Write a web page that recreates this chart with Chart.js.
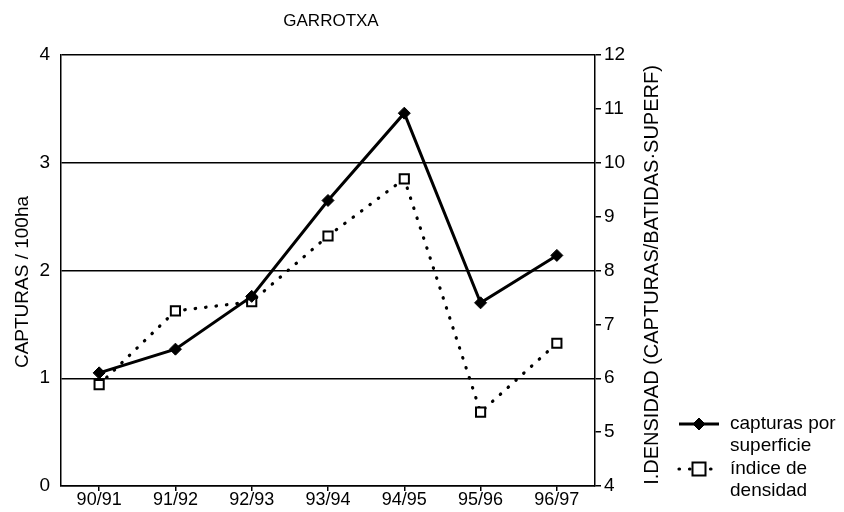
<!DOCTYPE html>
<html>
<head>
<meta charset="utf-8">
<script src="https://cdn.jsdelivr.net/npm/chart.js@4/dist/chart.umd.min.js"></script>
<style>
html,body{margin:0;padding:0;background:#fff;}
#wrap{width:844px;height:512px;}
</style>
</head>
<body>
<div id="wrap"><canvas id="c" width="844" height="512"></canvas></div>
<script>
const categories = ['90/91','91/92','92/93','93/94','94/95','95/96','96/97'];
const capturasPorSuperficie = [1.05, 1.27, 1.76, 2.65, 3.46, 1.70, 2.14];
const indiceDensidad = [5.88, 7.25, 7.42, 8.64, 9.70, 5.37, 6.65];
const chartTitle = 'GARROTXA';
const leftTitle = 'CAPTURAS / 100ha';
const rightTitle = 'I.DENSIDAD (CAPTURAS/BATIDAS·SUPERF)';
const legendLabels = [['capturas por','superficie'],['índice de','densidad']];

const FONT = '"Liberation Sans", Arial, sans-serif';

const extras = {
  id: 'extras',
  afterDraw(chart) {
    const ctx = chart.ctx;
    ctx.save();
    ctx.fillStyle = '#000';
    // title
    ctx.font = '17px ' + FONT;
    ctx.textAlign = 'center';
    ctx.textBaseline = 'middle';
    ctx.fillText(chartTitle, 331, 21);
    // left axis title
    ctx.font = '19px ' + FONT;
    ctx.save();
    ctx.translate(23, 282);
    ctx.rotate(-Math.PI / 2);
    ctx.fillText(leftTitle, 0, 0);
    ctx.restore();
    // right axis title
    ctx.font = '20px ' + FONT;
    ctx.save();
    ctx.translate(652, 275);
    ctx.rotate(-Math.PI / 2);
    ctx.fillText(rightTitle, 0, 0);
    ctx.restore();
    // legend
    const ds = chart.data.datasets;
    const rows = [424, 469];
    const lx0 = 679, lx1 = 719, mx = 699;
    ctx.textAlign = 'left';
    ctx.font = '19px ' + FONT;
    ds.forEach((d, i) => {
      const y = rows[i];
      ctx.save();
      ctx.strokeStyle = d.borderColor;
      ctx.lineWidth = d.borderWidth;
      ctx.lineCap = d.borderCapStyle || 'butt';
      ctx.setLineDash(d.borderDash || []);
      ctx.beginPath();
      ctx.moveTo(lx0, y);
      ctx.lineTo(lx1, y);
      ctx.stroke();
      ctx.restore();
      ctx.save();
      ctx.fillStyle = d.pointBackgroundColor;
      ctx.strokeStyle = d.pointBorderColor;
      ctx.lineWidth = d.pointBorderWidth;
      ctx.beginPath();
      const r = d.pointRadius;
      if (d.pointStyle === 'rect') {
        ctx.rect(mx - r, y - r, 2 * r, 2 * r);
      } else {
        ctx.moveTo(mx, y - r); ctx.lineTo(mx + r, y); ctx.lineTo(mx, y + r); ctx.lineTo(mx - r, y); ctx.closePath();
      }
      ctx.fill();
      ctx.stroke();
      ctx.restore();
      ctx.fillStyle = '#000';
      ctx.fillText(legendLabels[i][0], 730, y);
      ctx.fillText(legendLabels[i][1], 730, y + 22);
    });
    ctx.restore();
  }
};

new Chart(document.getElementById('c'), {
  type: 'line',
  data: {
    labels: categories,
    datasets: [
      {
        label: 'capturas por superficie',
        data: capturasPorSuperficie,
        yAxisID: 'y',
        borderColor: '#000',
        borderWidth: 3,
        pointStyle: 'rectRot',
        pointRadius: 6,
        pointBackgroundColor: '#000',
        pointBorderColor: '#000',
        pointBorderWidth: 1,
        tension: 0
      },
      {
        label: 'índice de densidad',
        data: indiceDensidad,
        yAxisID: 'y1',
        borderColor: '#000',
        borderWidth: 3.2,
        borderDash: [0.5, 10],
        borderCapStyle: 'round',
        pointStyle: 'rect',
        pointRadius: 6.5,
        pointBackgroundColor: '#fff',
        pointBorderColor: '#000',
        pointBorderWidth: 2,
        tension: 0
      }
    ]
  },
  options: {
    responsive: false,
    devicePixelRatio: 1,
    animation: false,
    layout: { padding: { left: 0, right: 204, top: 55, bottom: 0 } },
    plugins: { legend: { display: false }, title: { display: false }, tooltip: { enabled: false } },
    scales: {
      x: {
        type: 'category',
        offset: true,
        grid: { offset: false, drawOnChartArea: false, drawTicks: true, tickLength: 5, color: '#000', lineWidth: 1.5 },
        border: { display: true, color: '#000', width: 1.5 },
        ticks: { color: '#000', font: { family: FONT, size: 18 }, padding: -2, maxRotation: 0, autoSkip: false },
        afterFit(s) { s.height = 26; }
      },
      y: {
        position: 'left',
        min: 0, max: 4,
        ticks: { stepSize: 1, color: '#000', font: { family: FONT, size: 19 }, padding: 11 },
        grid: { color: '#000', lineWidth: 1.5, drawTicks: false },
        border: { display: true, color: '#000', width: 1.5 },
        afterFit(s) { s.width = 61; }
      },
      y1: {
        position: 'right',
        min: 4, max: 12,
        ticks: { stepSize: 1, color: '#000', font: { family: FONT, size: 19 }, padding: 3 },
        grid: { drawOnChartArea: false, drawTicks: true, tickLength: 6, color: '#000', lineWidth: 1.5 },
        border: { display: true, color: '#000', width: 1.5 },
        afterFit(s) { s.width = 45; }
      }
    }
  },
  plugins: [extras]
});
</script>
</body>
</html>
